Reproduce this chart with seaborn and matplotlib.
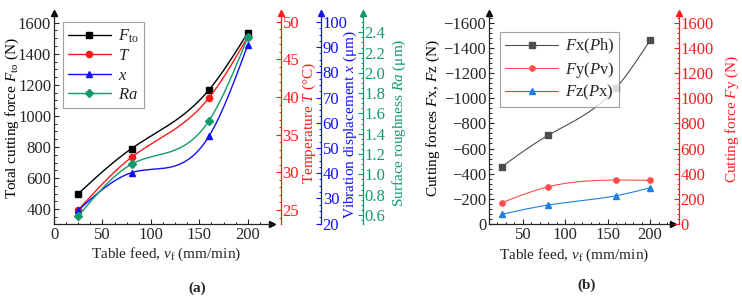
import numpy as np
import pandas as pd
import matplotlib
matplotlib.use("Agg")
import matplotlib.pyplot as plt
from matplotlib.ticker import MultipleLocator, AutoMinorLocator
import seaborn as sns

# ---------------- data ----------------
feed = [25, 80, 160, 200]
f_to = [500, 790, 1168, 1535]
temp = [25.0, 32.0, 39.9, 48.0]
vib = [25.3, 40.2, 54.7, 90.9]
ra = [0.59, 1.10, 1.53, 2.35]

fx = [-455, -706, -1082, -1460]
fy = [169, 296, 349, 347]
fz = [-77, -151, -225, -288]

# ---------------- style ----------------
sns.set_style("ticks")
plt.rcParams["font.family"] = ["Liberation Serif", "DejaVu Serif"]
plt.rcParams["mathtext.fontset"] = "custom"
plt.rcParams["mathtext.rm"] = "Liberation Serif"
plt.rcParams["mathtext.it"] = "Liberation Serif:italic"
plt.rcParams["mathtext.bf"] = "Liberation Serif:bold"
FS = 11       # axis labels
TS = 12       # tick labels
LS = 12       # legend


def smooth(x, y, n=200):
    """natural cubic spline drawn through the data points"""
    x = np.asarray(x, float)
    y = np.asarray(y, float)
    h = np.diff(x)
    m = len(x)
    A = np.zeros((m, m))
    b = np.zeros(m)
    A[0, 0] = A[-1, -1] = 1
    for i in range(1, m - 1):
        A[i, i - 1] = h[i - 1]
        A[i, i] = 2 * (h[i - 1] + h[i])
        A[i, i + 1] = h[i]
        b[i] = 6 * ((y[i + 1] - y[i]) / h[i] - (y[i] - y[i - 1]) / h[i - 1])
    M = np.linalg.solve(A, b)
    xs = np.linspace(x[0], x[-1], n)
    idx = np.clip(np.searchsorted(x, xs) - 1, 0, m - 2)
    x0, x1 = x[idx], x[idx + 1]
    y0, y1 = y[idx], y[idx + 1]
    M0, M1 = M[idx], M[idx + 1]
    hh = x1 - x0
    ys = (M0 * (x1 - xs) ** 3 / (6 * hh) + M1 * (xs - x0) ** 3 / (6 * hh)
          + (y0 / hh - M0 * hh / 6) * (x1 - xs) + (y1 / hh - M1 * hh / 6) * (xs - x0))
    return pd.DataFrame({"x": xs, "y": ys})


def draw(ax, y, color, marker, ms, lw, label):
    d = smooth(feed, y)
    sns.lineplot(data=d, x="x", y="y", ax=ax, color=color, lw=lw, legend=False)
    ax.plot(feed, y, linestyle="none", marker=marker, color=color, ms=ms)
    return matplotlib.lines.Line2D([], [], color=color, lw=lw, marker=marker, ms=ms, label=label)


def arrow_up(ax, xpos, color):
    ax.plot([xpos], [1], marker="^", color=color, ms=4, transform=ax.transAxes, clip_on=False)


def style_axis(ax, color, side):
    ax.tick_params(axis="y", which="major", colors=color, labelcolor=color, direction="in",
                   length=3.5, width=0.8, labelsize=TS, pad=1.2)
    ax.tick_params(axis="y", which="minor", colors=color, direction="in", length=1.8, width=0.7)
    ax.spines[side].set_color(color)
    ax.spines[side].set_linewidth(0.9)


def ylab(ax, text, x, y=0.5, color="black"):
    ax.set_ylabel(text, color=color, fontsize=FS)
    ax.yaxis.label.set_va("center")
    ax.yaxis.set_label_coords(x, y)


def xlab(ax, text, x, y):
    ax.set_xlabel(text, fontsize=FS)
    ax.xaxis.label.set_va("center")
    ax.xaxis.set_label_coords(x, y)


fig = plt.figure(figsize=(7.42, 3.01), dpi=100)
W, H = 742, 301

# ================= panel (a) =================
ax = fig.add_axes([54 / W, 1 - 224 / H, (272 - 54) / W, (224 - 13) / H])
axT = ax.twinx()
axX = ax.twinx()
axR = ax.twinx()

RED, BLUE, GREEN = "#ff1a1a", "#1010ff", "#129a6a"

handles = []
handles.append(draw(ax, f_to, "black", "s", 4.5, 1.0, r"$F_{\rm to}$"))
handles.append(draw(axT, temp, RED, "o", 4.5, 1.0, r"$T$"))
handles.append(draw(axX, vib, BLUE, "^", 4.5, 1.0, r"$x$"))
handles.append(draw(axR, ra, GREEN, "D", 3.8, 1.0, r"$Ra$"))

ax.set_xlim(0, 225)
ax.set_ylim(305, 1662)
axT.set_ylim(23.14, 51.16)
axX.set_ylim(19.84, 103.56)
axR.set_ylim(0.511, 2.59)

ax.xaxis.set_major_locator(MultipleLocator(50))
ax.xaxis.set_minor_locator(AutoMinorLocator(4))
ax.yaxis.set_major_locator(MultipleLocator(200))
ax.yaxis.set_minor_locator(AutoMinorLocator(4))
axT.yaxis.set_major_locator(MultipleLocator(5))
axT.yaxis.set_minor_locator(AutoMinorLocator(5))
axX.yaxis.set_major_locator(MultipleLocator(10))
axX.yaxis.set_minor_locator(AutoMinorLocator(4))
axR.yaxis.set_major_locator(MultipleLocator(0.2))
axR.yaxis.set_minor_locator(AutoMinorLocator(4))
axR.yaxis.set_major_formatter(matplotlib.ticker.FormatStrFormatter("%.1f"))

for a in (ax, axT, axX, axR):
    a.spines["top"].set_visible(False)
ax.spines["right"].set_visible(False)
for a in (axT, axX, axR):
    a.spines["left"].set_visible(False)
    a.spines["bottom"].set_visible(False)
    a.set_xlabel("")

axT.spines["right"].set_position(("axes", 1.041))
axX.spines["right"].set_position(("axes", 1.225))
axR.spines["right"].set_position(("axes", 1.416))

ax.tick_params(axis="both", which="major", direction="in", length=3.5, width=0.8, labelsize=TS, pad=2)
ax.tick_params(axis="both", which="minor", direction="in", length=1.8, width=0.7)
for s in ("left", "bottom"):
    ax.spines[s].set_linewidth(0.9)
style_axis(axT, RED, "right")
style_axis(axX, BLUE, "right")
style_axis(axR, GREEN, "right")

xlab(ax, r"Table feed, $v_{\rm f}$ (mm/min)", 0.514, -0.142)
ylab(ax, r"Total cutting force $F_{\rm to}$ (N)", -0.19)
ylab(axT, r"Temperature $T$ (°C)", 1.172, 0.48, RED)
ylab(axX, r"Vibration displacement $x$ (μm)", 1.36, 0.47, BLUE)
ylab(axR, r"Surface roughness $Ra$ (μm)", 1.585, 0.48, GREEN)

arrow_up(ax, 0, "black")
arrow_up(ax, 1.041, RED)
arrow_up(ax, 1.225, BLUE)
arrow_up(ax, 1.416, GREEN)
ax.plot([1], [0], marker=">", color="black", ms=4, transform=ax.transAxes, clip_on=False)

leg = axR.legend(handles=handles, loc="upper left", bbox_to_anchor=(0.04, 0.955), fontsize=LS,
                 frameon=True, fancybox=False, edgecolor="#888888", handlelength=2.6,
                 labelspacing=0.2, borderpad=0.3, handletextpad=0.4, borderaxespad=0)
leg.get_frame().set_linewidth(0.8)

fig.text(197 / W, 1 - 288 / H, "(a)", fontsize=FS, fontweight="bold", ha="center", va="center")

# ================= panel (b) =================
bx = fig.add_axes([489 / W, 1 - 224 / H, (673 - 489) / W, (224 - 13) / H])
bY = bx.twinx()

h2 = []
h2.append(draw(bx, fx, "#4d4d4d", "s", 3.8, 0.8, r"$F$x($P$h)"))
h2.append(draw(bY, fy, "#ff4d4d", "o", 3.8, 0.8, r"$F$y($P$v)"))
h2.append(draw(bx, fz, "#1e7fe0", "^", 3.8, 0.8, r"$F$z($P$x)"))

bx.set_xlim(10, 227)
bx.set_ylim(0, -1677)
bY.set_ylim(0, 1677)
bx.xaxis.set_major_locator(MultipleLocator(50))
bx.xaxis.set_minor_locator(AutoMinorLocator(5))
bx.yaxis.set_major_locator(MultipleLocator(200))
bx.yaxis.set_minor_locator(AutoMinorLocator(5))
bY.yaxis.set_major_locator(MultipleLocator(200))
bY.yaxis.set_minor_locator(AutoMinorLocator(5))

bx.spines["top"].set_visible(False)
bx.spines["right"].set_visible(False)
bY.spines["top"].set_visible(False)
bY.spines["left"].set_visible(False)
bY.spines["bottom"].set_visible(False)
bY.spines["right"].set_position(("axes", 1.033))
bY.set_xlabel("")

bx.tick_params(axis="both", which="major", direction="in", length=3.5, width=0.8, labelsize=TS, pad=2)
bx.tick_params(axis="both", which="minor", direction="in", length=1.8, width=0.7)
for s in ("left", "bottom"):
    bx.spines[s].set_linewidth(0.9)
style_axis(bY, RED, "right")

xlab(bx, r"Table feed, $v_{\rm f}$ (mm/min)", 0.462, -0.147)
ylab(bx, r"Cutting forces $F$x, $F$z (N)", -0.30)
ylab(bY, r"Cutting force $F$y (N)", 1.322, 0.5, RED)

arrow_up(bx, 0, "black")
arrow_up(bx, 1.033, RED)
bx.plot([1], [0], marker=">", color="black", ms=4, transform=bx.transAxes, clip_on=False)

leg2 = bY.legend(handles=h2, loc="upper left", bbox_to_anchor=(0.06, 0.91), fontsize=LS,
                 frameon=True, fancybox=False, edgecolor="#888888", handlelength=3.2,
                 labelspacing=0.2, borderpad=0.3, handletextpad=0.4, borderaxespad=0)
leg2.get_frame().set_linewidth(0.8)

fig.text(586.7 / W, 1 - 285 / H, "(b)", fontsize=FS, fontweight="bold", ha="center", va="center")

fig.savefig("out.png", dpi=100)
